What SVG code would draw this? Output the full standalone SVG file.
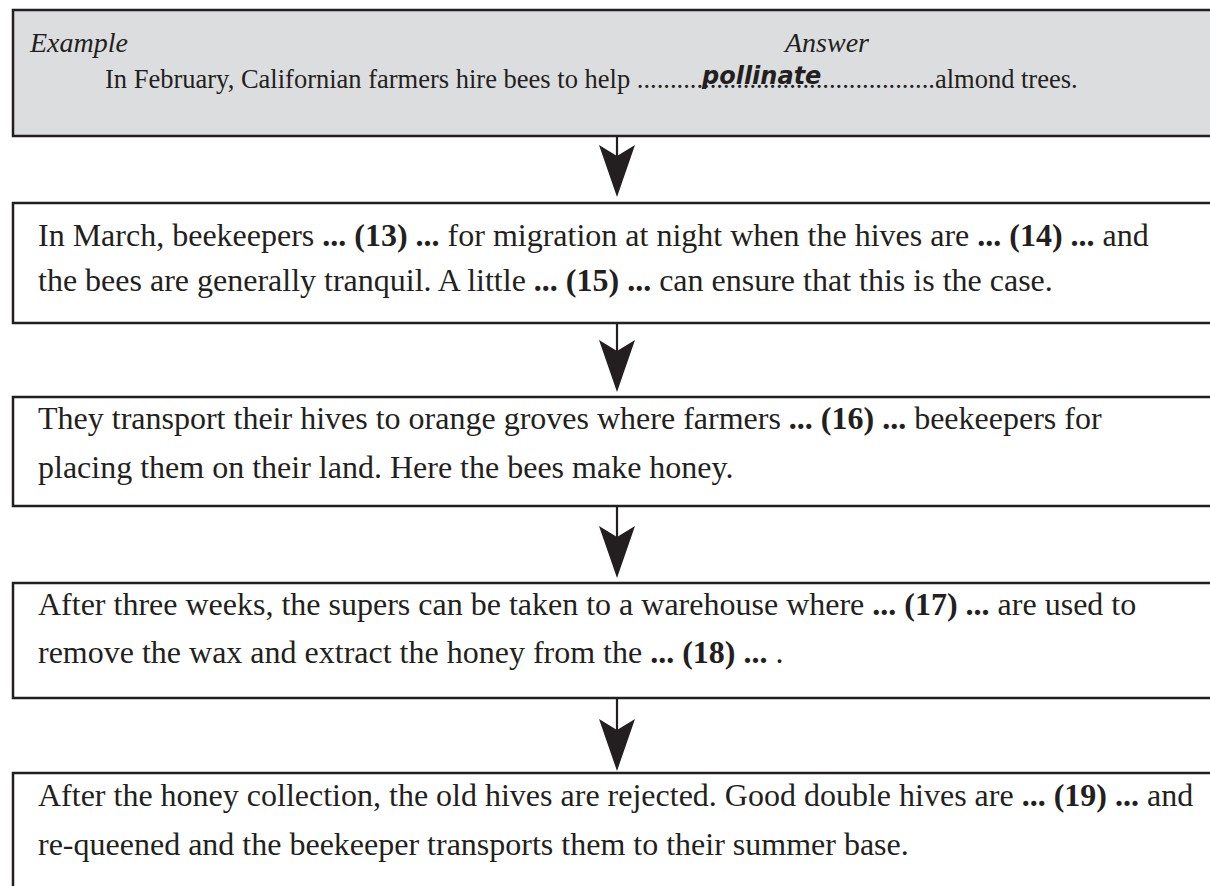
<svg xmlns="http://www.w3.org/2000/svg" width="1210" height="886" viewBox="0 0 1210 886">
<style>
.box{fill:#ffffff;stroke:#231f20;stroke-width:2.5}
.grey{fill:#dcdddf}
.t{font-family:"Liberation Serif","Times New Roman",serif;font-size:32px;fill:#231f20}
.s{font-family:"Liberation Serif","Times New Roman",serif;font-size:26.5px;fill:#231f20}
.it{font-family:"Liberation Serif","Times New Roman",serif;font-size:28px;font-style:italic;fill:#231f20}
.hand{font-family:"DejaVu Sans",sans-serif;font-size:24px;font-weight:bold;font-style:italic;fill:#231f20}
.b{font-weight:bold}
.shaft{stroke:#231f20;stroke-width:2.2;fill:none}
.head{fill:#231f20}
</style>
<defs>
<path id="ah" d="M0,0 L-18,-52 L0,-41 L18,-52 Z"/>
</defs>
<g id="connectors">
<line class="shaft" x1="617" y1="136" x2="617" y2="160"/>
<use href="#ah" class="head" x="617" y="197"/>
<line class="shaft" x1="617" y1="323" x2="617" y2="355"/>
<use href="#ah" class="head" x="617" y="392"/>
<line class="shaft" x1="617" y1="506" x2="617" y2="542"/>
<use href="#ah" class="head" x="617" y="578"/>
<line class="shaft" x1="617" y1="698" x2="617" y2="734"/>
<use href="#ah" class="head" x="617" y="771"/>
</g>
<g id="example">
<rect class="box grey" x="13" y="10" width="1220" height="126"/>
<text class="it" x="30" y="52">Example</text>
<text class="it" x="785" y="52">Answer</text>
<text class="s" x="105" y="88">In February, Californian farmers hire bees to help .............................................almond trees.</text>
<text class="hand" x="702" y="84">pollinate</text>
</g>
<g id="step13">
<rect class="box" x="13" y="203" width="1220" height="120"/>
<text class="t" x="38" y="246">In March, beekeepers <tspan class="b">... (13) ...</tspan> for migration at night when the hives are <tspan class="b">... (14) ...</tspan> and</text>
<text class="t" x="38" y="291">the bees are generally tranquil. A little <tspan class="b">... (15) ...</tspan> can ensure that this is the case.</text>
</g>
<g id="step16">
<rect class="box" x="13" y="397" width="1220" height="109"/>
<text class="t" x="38" y="429">They transport their hives to orange groves where farmers <tspan class="b">... (16) ...</tspan> beekeepers for</text>
<text class="t" x="38" y="478">placing them on their land. Here the bees make honey.</text>
</g>
<g id="step17">
<rect class="box" x="13" y="583" width="1220" height="115"/>
<text class="t" x="38" y="615">After three weeks, the supers can be taken to a warehouse where <tspan class="b">... (17) ...</tspan> are used to</text>
<text class="t" x="38" y="663">remove the wax and extract the honey from the <tspan class="b">... (18) ...</tspan> .</text>
</g>
<g id="step19">
<rect class="box" x="13" y="773" width="1220" height="140"/>
<text class="t" x="38" y="806">After the honey collection, the old hives are rejected. Good double hives are <tspan class="b">... (19) ...</tspan> and</text>
<text class="t" x="38" y="855">re-queened and the beekeeper transports them to their summer base.</text>
</g>
</svg>
